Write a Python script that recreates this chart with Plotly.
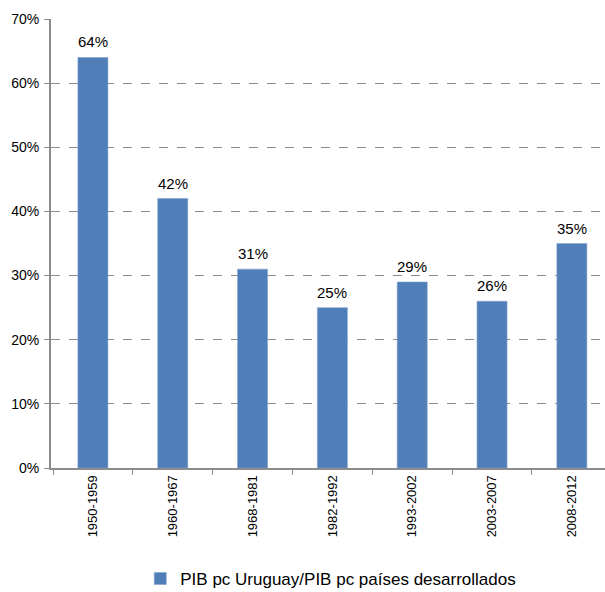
import plotly.graph_objects as go

periods = ["1950-1959", "1960-1967", "1968-1981", "1982-1992", "1993-2002", "2003-2007", "2008-2012"]
ratio_pct = [64, 42, 31, 25, 29, 26, 35]
series_name = "PIB pc Uruguay/PIB pc países desarrollados"

bar_color = "#4F7EB8"
font_family = "Liberation Sans, Arial, sans-serif"
ratio = [v / 100 for v in ratio_pct]

fig = go.Figure(
    go.Bar(
        x=periods,
        y=ratio,
        name=series_name,
        width=0.376,
        marker=dict(color=bar_color, line=dict(color="#7FA3CF", width=0.6)),
        showlegend=True,
    )
)

# value labels above each bar
for p, v, pct in zip(periods, ratio, ratio_pct):
    fig.add_annotation(
        x=p, y=v, text=f"{pct}%", showarrow=False,
        yanchor="bottom", yshift=5,
        font=dict(size=15, color="#000000", family=font_family),
    )

fig.update_layout(
    width=605,
    height=592,
    margin=dict(l=51, r=0, t=19, b=124, autoexpand=False),
    paper_bgcolor="white",
    plot_bgcolor="white",
    font=dict(family=font_family, color="#000000"),
    showlegend=True,
    legend=dict(
        orientation="h",
        x=0.505,
        xanchor="center",
        yref="container",
        y=0.022,
        yanchor="middle",
        font=dict(size=17, family=font_family),
        itemwidth=30,
        bgcolor="rgba(0,0,0,0)",
    ),
)

fig.update_yaxes(
    range=[0, 0.7],
    tickvals=[i / 10 for i in range(8)],
    ticktext=[f"{i * 10}%" for i in range(8)],
    tickfont=dict(size=14),
    showgrid=True,
    gridcolor="#8C8C8C",
    griddash="dash",
    gridwidth=1,
    zeroline=False,
    showline=True,
    linecolor="#8C8C8C",
    linewidth=2,
    ticks="outside",
    ticklen=5,
    tickcolor="#8C8C8C",
    ticklabelstandoff=2,
    automargin=False,
)

fig.update_xaxes(
    range=[-0.525, 6.415],
    tickangle=-90,
    tickfont=dict(size=13),
    showline=True,
    linecolor="#8C8C8C",
    linewidth=2,
    ticks="outside",
    tickson="boundaries",
    ticklen=5,
    tickcolor="#8C8C8C",
    showgrid=False,
    automargin=False,
)

fig.write_html("out.html")
